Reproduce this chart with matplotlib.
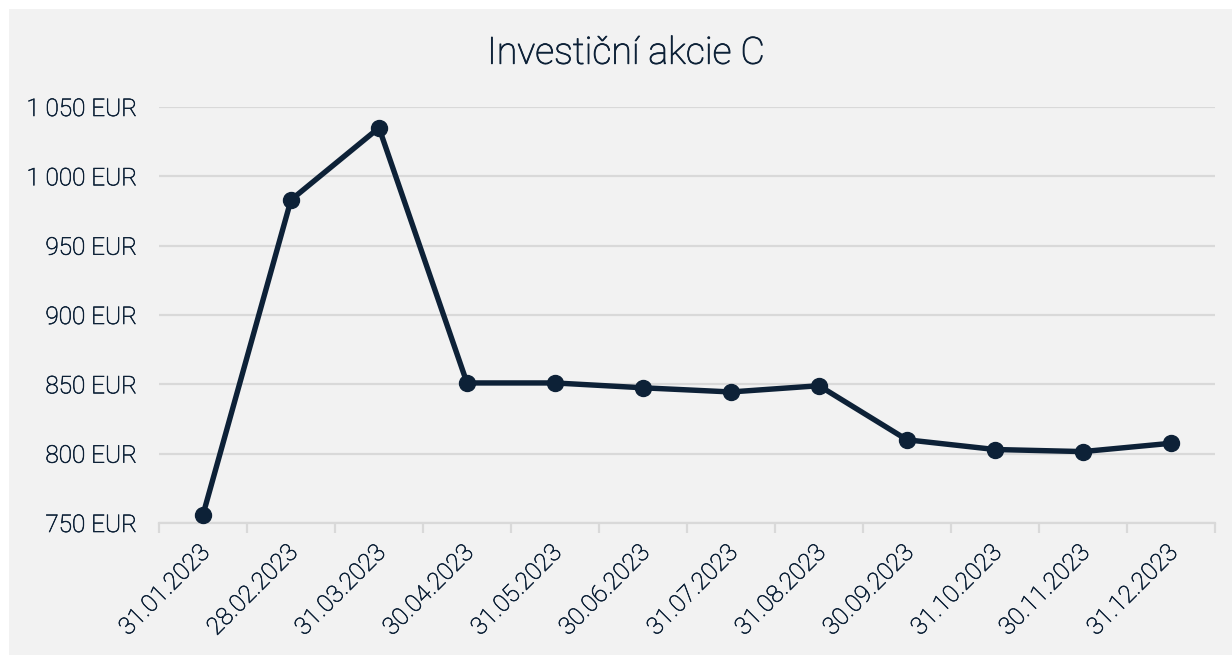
"""Investiční akcie C – month-end values, 2023."""

import matplotlib.pyplot as plt
import matplotlib.patheffects as pe
from matplotlib.patches import Rectangle
from matplotlib.ticker import FuncFormatter
from matplotlib.transforms import ScaledTranslation

dates = [
    "31.01.2023", "28.02.2023", "31.03.2023", "30.04.2023",
    "31.05.2023", "30.06.2023", "31.07.2023", "31.08.2023",
    "30.09.2023", "31.10.2023", "30.11.2023", "31.12.2023",
]
values = [756, 983, 1035, 851, 851, 847.5, 844.5, 849, 810, 803, 801.5, 807.5]
y_ticks = [750, 800, 850, 900, 950, 1000, 1050]

TEXT = "#0d2137"
LINE = "#0d2137"
GRID = "#d9d9d9"
BG = "#f2f2f2"

plt.rcParams["font.family"] = ["Roboto", "DejaVu Sans"]

fig = plt.figure(figsize=(12.32, 6.55), dpi=100, facecolor="white")
fig.patches.append(Rectangle((9 / 1232, 0), 1 - 9 / 1232, 1 - 9 / 655,
                             transform=fig.transFigure, facecolor=BG,
                             edgecolor="none", zorder=-1))

ax = fig.add_axes([159 / 1232, 132 / 655, 1056 / 1232, 416 / 655])
ax.set_facecolor("none")

x = list(range(len(dates)))
ax.plot(x, values, color=LINE, linewidth=3.9, marker="o", markersize=11.5,
        solid_capstyle="round", zorder=3, clip_on=False)

ax.set_xlim(-0.5, len(dates) - 0.5)
ax.set_ylim(750, 1050)
ax.set_yticks(y_ticks)
ax.yaxis.set_major_formatter(
    FuncFormatter(lambda v, _: f"{int(v):,} EUR".replace(",", " ")))
ax.grid(axis="y", color=GRID, linewidth=1.6)
ax.set_axisbelow(True)

# category boundaries carry the tick marks, centres carry the labels
ax.set_xticks([i - 0.5 for i in range(len(dates) + 1)])
ax.set_xticklabels([])
ax.set_xticks(x, minor=True)
ax.set_xticklabels(dates, minor=True, rotation=45, ha="right", va="top",
                   rotation_mode="anchor")
ax.tick_params(axis="x", which="minor", length=0, pad=13,
               labelsize=17.5, labelcolor=TEXT)
ax.tick_params(axis="x", which="major", length=7, width=1.6, color=GRID)
ax.tick_params(axis="y", length=0, pad=16, labelsize=17.5, labelcolor=TEXT)

# light Roboto renders too faint here, so thicken it a touch
thicken = [pe.withStroke(linewidth=0.45, foreground=TEXT)]
shift = ScaledTranslation(-5 / 100, 0, fig.dpi_scale_trans)
for lab in ax.get_xticklabels(minor=True):
    lab.set_transform(lab.get_transform() + shift)
for lab in ax.get_xticklabels(minor=True) + ax.get_yticklabels():
    lab.set_fontweight("light")
    lab.set_path_effects(thicken)

for side in ("top", "right", "left"):
    ax.spines[side].set_visible(False)
ax.spines["bottom"].set_color(GRID)
ax.spines["bottom"].set_linewidth(1.6)

fig.text(626 / 1232, 1 - 53 / 655, "Investiční akcie C", ha="center",
         va="center", fontsize=27, color=TEXT, fontweight="light",
         path_effects=[pe.withStroke(linewidth=0.6, foreground=TEXT)])

fig.savefig("out.png", dpi=100, facecolor=fig.get_facecolor())
